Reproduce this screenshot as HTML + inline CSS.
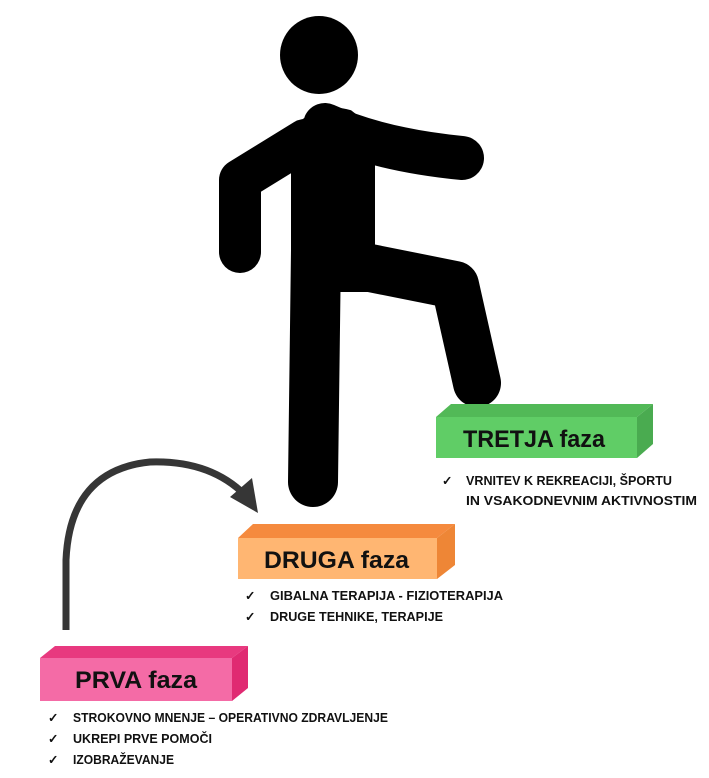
<!DOCTYPE html>
<html><head><meta charset="utf-8"><style>
html,body{margin:0;padding:0;background:#fff;width:709px;height:778px;overflow:hidden}
svg{display:block}
.t{font-family:"Liberation Sans",sans-serif;font-weight:bold;fill:#111}
.b{font-family:"Liberation Sans",sans-serif;font-weight:bold;font-size:12.5px;fill:#111}
</style></head><body>
<svg width="709" height="778" viewBox="0 0 709 778">
<g fill="#000" stroke="#000" stroke-linecap="round" stroke-linejoin="round">
<circle cx="319" cy="55" r="39" stroke="none"/>
<polyline points="305,140 240,180 240,252" fill="none" stroke-width="42"/>
<path d="M325,125 Q380,150 462,158" fill="none" stroke-width="44"/>
<path d="M293,130 Q320,103 350,112 L373,130 L373,290 L293,290 Z" stroke-width="4"/>
<line x1="316" y1="250" x2="313" y2="482" stroke-width="50"/>
<polyline points="355,265 455,285 477,383" fill="none" stroke-width="48"/>
</g>
<path d="M66,630 L66,560 Q70,470 150,462 Q210,460 245,495" fill="none" stroke="#363636" stroke-width="7"/>
<polygon points="258,513 230,497 252,478" fill="#363636"/>
<polygon points="436,417 451,404 653,404 637,417" fill="#52b957"/>
<polygon points="637,417 653,404 653,444 637,458" fill="#4aab50"/>
<rect x="436" y="417" width="201" height="41" fill="#60cd66"/>
<text class="t" x="463" y="447" font-size="24" textLength="142" lengthAdjust="spacingAndGlyphs">TRETJA faza</text>
<text class="b" x="442" y="485">✓</text>
<text class="b" x="466" y="485" textLength="206" lengthAdjust="spacingAndGlyphs">VRNITEV K REKREACIJI, ŠPORTU</text>
<text class="b" x="466" y="505" textLength="231" lengthAdjust="spacingAndGlyphs">IN VSAKODNEVNIM AKTIVNOSTIM</text>
<polygon points="238,538 253,524 455,524 437,538" fill="#f58a3e"/>
<polygon points="437,538 455,524 455,565 437,579" fill="#ee8636"/>
<rect x="238" y="538" width="199" height="41" fill="#ffb672"/>
<text class="t" x="264" y="568" font-size="24" textLength="145" lengthAdjust="spacingAndGlyphs">DRUGA faza</text>
<text class="b" x="245" y="600">✓</text>
<text class="b" x="270" y="600" textLength="233" lengthAdjust="spacingAndGlyphs">GIBALNA TERAPIJA - FIZIOTERAPIJA</text>
<text class="b" x="245" y="621">✓</text>
<text class="b" x="270" y="621" textLength="173" lengthAdjust="spacingAndGlyphs">DRUGE TEHNIKE, TERAPIJE</text>
<polygon points="40,658 55,646 248,646 232,658" fill="#e8397f"/>
<polygon points="232,658 248,646 248,688 232,701" fill="#e02a72"/>
<rect x="40" y="658" width="192" height="43" fill="#f46ba6"/>
<text class="t" x="75" y="688" font-size="24" textLength="122" lengthAdjust="spacingAndGlyphs">PRVA faza</text>
<text class="b" x="48" y="722">✓</text>
<text class="b" x="73" y="722" textLength="315" lengthAdjust="spacingAndGlyphs">STROKOVNO MNENJE – OPERATIVNO ZDRAVLJENJE</text>
<text class="b" x="48" y="743">✓</text>
<text class="b" x="73" y="743" textLength="139" lengthAdjust="spacingAndGlyphs">UKREPI PRVE POMOČI</text>
<text class="b" x="48" y="764">✓</text>
<text class="b" x="73" y="764" textLength="101" lengthAdjust="spacingAndGlyphs">IZOBRAŽEVANJE</text>
</svg>
</body></html>
